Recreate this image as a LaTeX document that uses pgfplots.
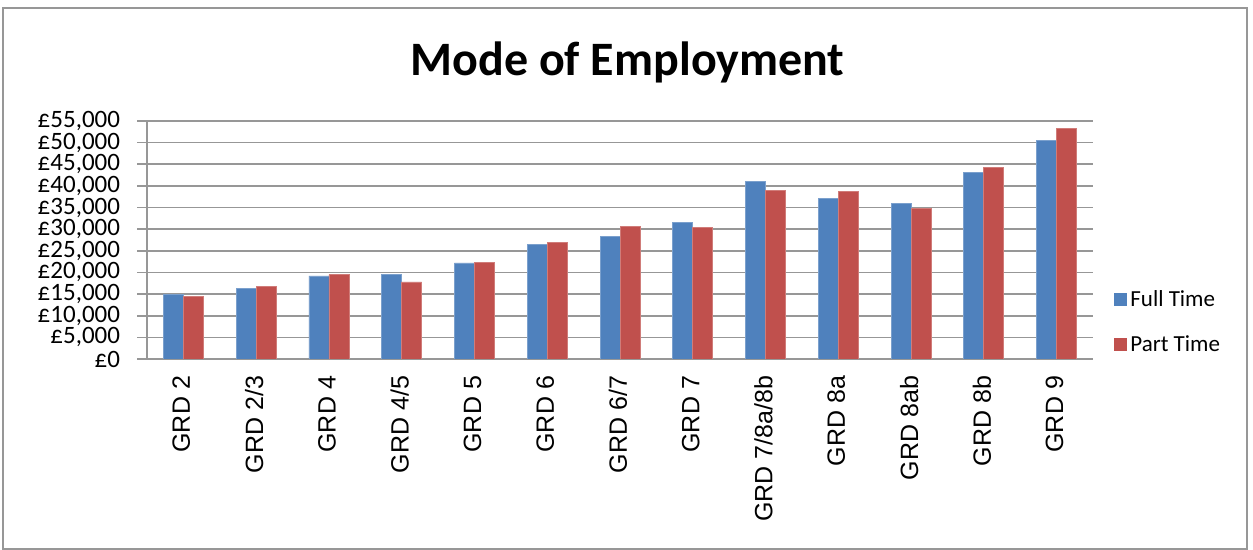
\documentclass[border=0pt]{standalone}
\usepackage{pgfplots}
\pgfplotsset{compat=1.18}
\usepackage{fontspec}
\setmainfont{Carlito}
\newfontfamily\arialf{Liberation Sans}
\definecolor{fullc}{HTML}{4F81BD}
\definecolor{partc}{HTML}{C0504D}
\definecolor{gridc}{HTML}{979797}
\begin{document}
\begin{tikzpicture}
\path[use as bounding box] (0,0) rectangle (626.5pt,275pt);
\draw[gridc, line width=0.8pt] (1.5pt,0.5pt) rectangle (623.5pt,271pt);
\node[font=\bfseries\fontsize{24}{28}\selectfont] at (313.75pt,244pt) {Mode of Employment};
\begin{axis}[
  at={(73.5pt,95.5pt)}, anchor=south west, scale only axis,
  width=473pt, height=119pt,
  ybar=0pt, bar width=10pt,
  xmin=-0.5, xmax=12.5, ymin=0, ymax=55000,
  scaled y ticks=false,
  xtick={0,...,12},
  xticklabels={GRD 2,GRD 2/3,GRD 4,GRD 4/5,GRD 5,GRD 6,GRD 6/7,GRD 7,GRD 7/8a/8b,GRD 8a,GRD 8ab,GRD 8b,GRD 9},
  major x tick style={draw=none},
  extra x ticks={-0.5,0.5,...,12.5},
  extra x tick labels={},
  extra x tick style={grid=none, tick style={draw=gridc, line width=0.8pt}},
  ytick={0,5000,...,55000},
  yticklabels={£0,{£5,000},{£10,000},{£15,000},{£20,000},{£25,000},{£30,000},{£35,000},{£40,000},{£45,000},{£50,000},{£55,000}},
  ymajorgrids, grid style={gridc, line width=0.8pt},
  major tick length=5pt, tick align=outside,
  y tick style={draw=gridc, line width=0.8pt},
  axis x line*=bottom, axis y line*=left,
  axis line style={gridc, line width=0.8pt, -},
  yticklabel style={font=\fontsize{12.5}{13}\selectfont, inner sep=0pt, xshift=-8.3pt},
  xticklabel style={rotate=90, anchor=east, yshift=1pt, font=\arialf\fontsize{12.5}{14}\selectfont},
  legend style={at={(1.015,0.155)}, anchor=west, draw=none, fill=none,
    font=\fontsize{11.5}{13}\selectfont, row sep=9pt},
  legend cell align=left,
]
\addplot[fill=fullc, draw=fullc!75!white, line width=0.4pt,
  legend image code/.code={\fill[fullc] (0pt,-3pt) rectangle (6pt,3pt);}]
  coordinates {(0,14900) (1,16200) (2,19200) (3,19500) (4,22200) (5,26500) (6,28400) (7,31500) (8,41100) (9,37200) (10,36000) (11,43200) (12,50500)};
\addplot[fill=partc, draw=partc!75!white, line width=0.4pt,
  legend image code/.code={\fill[partc] (0pt,-3pt) rectangle (6pt,3pt);}]
  coordinates {(0,14500) (1,16800) (2,19500) (3,17800) (4,22400) (5,26900) (6,30700) (7,30500) (8,39000) (9,38800) (10,34800) (11,44300) (12,53200)};
\legend{Full Time, Part Time}
\end{axis}
\end{tikzpicture}
\end{document}
